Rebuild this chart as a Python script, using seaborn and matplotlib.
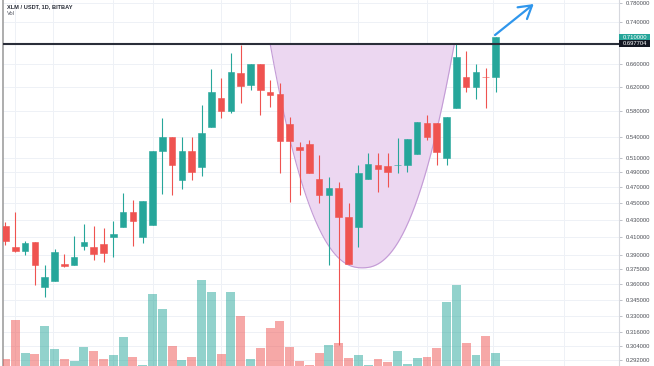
import numpy as np
import pandas as pd
import matplotlib
matplotlib.use("Agg")
import matplotlib.pyplot as plt
import seaborn as sns
from matplotlib.ticker import FixedLocator, FixedFormatter, NullLocator
from matplotlib.patches import Rectangle
from matplotlib.transforms import blended_transform_factory

# ---------------- data ----------------
opens = [0.4227, 0.3990, 0.3947, 0.4045, 0.3575, 0.3635, 0.3808, 0.3797, 0.4001, 0.3990,
         0.4023, 0.4101, 0.4216, 0.4393, 0.4101, 0.4239, 0.5194, 0.5398, 0.4796, 0.5194,
         0.4971, 0.5548, 0.6008, 0.5798, 0.6435, 0.6227, 0.6597, 0.6108, 0.6075, 0.5594,
         0.5251, 0.5295, 0.4810, 0.4603, 0.4692, 0.4333, 0.4216, 0.4810, 0.4998, 0.4984,
         0.4995, 0.4998, 0.5152, 0.5610, 0.5610, 0.5095, 0.5845, 0.6365, 0.6193, 0.6370,
         0.6365]
closes = [0.4057, 0.3947, 0.4034, 0.3797, 0.3675, 0.3936, 0.3787, 0.3882, 0.4045, 0.3914,
          0.3925, 0.4135, 0.4393, 0.4285, 0.4527, 0.5194, 0.5398, 0.4998, 0.5194, 0.4903,
          0.5458, 0.6108, 0.5798, 0.6453, 0.6210, 0.6597, 0.6142, 0.6058, 0.5339, 0.5339,
          0.5209, 0.4890, 0.4603, 0.4692, 0.4333, 0.3808, 0.4890, 0.5012, 0.4944, 0.4903,
          0.5000, 0.5368, 0.5625, 0.5398, 0.5180, 0.5703, 0.6724, 0.6193, 0.6453, 0.6360,
          0.7100]
highs = [0.4274, 0.4393, 0.4057, 0.4045, 0.3797, 0.3969, 0.3914, 0.4112, 0.4250, 0.4227,
         0.4204, 0.4285, 0.4628, 0.4540, 0.4527, 0.5194, 0.5687, 0.5398, 0.5398, 0.5398,
         0.5894, 0.6507, 0.6348, 0.6799, 0.6950, 0.6597, 0.6597, 0.6313, 0.6261, 0.5703,
         0.5324, 0.5353, 0.5137, 0.4836, 0.4770, 0.4503, 0.4998, 0.5166, 0.5166, 0.5166,
         0.5383, 0.5368, 0.5625, 0.5734, 0.5610, 0.5703, 0.6988, 0.6836, 0.6597, 0.6525,
         0.7104]
lows = [0.4012, 0.3936, 0.3903, 0.3595, 0.3478, 0.3635, 0.3776, 0.3797, 0.3958, 0.3850,
        0.3829, 0.3882, 0.4216, 0.4001, 0.4034, 0.4239, 0.4616, 0.4603, 0.4679, 0.4796,
        0.4849, 0.5548, 0.5687, 0.5766, 0.5927, 0.6142, 0.5734, 0.5862, 0.4890, 0.4515,
        0.4603, 0.4890, 0.4503, 0.3797, 0.3048, 0.3808, 0.3990, 0.4810, 0.4641, 0.4705,
        0.4890, 0.4903, 0.5152, 0.5353, 0.4998, 0.4998, 0.5845, 0.6108, 0.5992, 0.5845,
        0.6108]
volumes = [7, 46, 13, 12, 40, 17, 7, 5, 19, 15, 7, 11, 29, 9, 1, 72, 57, 20, 6, 9,
           86, 74, 12, 74, 50, 7, 18, 38, 45, 19, 5, 1, 13, 21, 23, 8, 11, 1, 7, 4,
           15, 2, 8, 9, 18, 64, 81, 23, 11, 30, 13]

price_ticks = [0.78, 0.74, 0.66, 0.62, 0.58, 0.54, 0.51, 0.49, 0.47, 0.45, 0.43,
               0.41, 0.39, 0.375, 0.36, 0.345, 0.33, 0.316, 0.304, 0.292]
resistance = 0.697704
last_price = 0.71
title_text = "XLM / USDT, 1D, BITBAY"
vol_text = "Vol"

# cup drawing (annotation) in day-index / price units
cup_start, cup_end = 27.0, 45.8
cup_bottom = 0.3767
# arrow annotation
arrow_from = (49.95, 0.7143)
arrow_to = (53.9, 0.7779)
grid_days = [1.0, 4.85, 11.0, 15.0, 22.0, 29.0, 36.0, 43.0, 49.7, 57.0]

GREEN = "#26a69a"
RED = "#ef5350"

# ---------------- figure ----------------
sns.set_theme(style="white")
plt.rcParams["font.family"] = ["Liberation Sans", "DejaVu Sans"]

o = np.array(opens); c = np.array(closes)
h = np.array(highs); l = np.array(lows)
days = np.arange(len(o))
up = c >= o
cols = np.where(up, GREEN, RED)

fig = plt.figure(figsize=(6.54, 3.66), dpi=100, facecolor="white")
rect = [3 / 654, 0.0, 616 / 654, 1.0]
ax = fig.add_axes(rect)
axv = fig.add_axes(rect)
axv.patch.set_alpha(0)

ax.set_yscale("log")
ylo, yhi = 0.2876, 0.7865
ax.set_ylim(ylo, yhi)
xlim = (-0.255, 62.6)
ax.set_xlim(*xlim)

# grid
for t in price_ticks:
    ax.axhline(t, color="#eef1f6", lw=0.7, zorder=0.5)
for g in grid_days:
    ax.axvline(g, color="#eef1f6", lw=0.7, zorder=0.5)

# cup fill
u = np.linspace(-1, 1, 300)
xs = (cup_start + cup_end) / 2 + (cup_end - cup_start) / 2 * u
lt, lb = np.log(resistance), np.log(cup_bottom)
curve = np.exp(lt - (lt - lb) * (1 - np.abs(u) ** 2.3))
ax.fill_between(xs, curve, resistance, color="#ecd7f1", lw=0, zorder=2)
ax.plot(xs, curve, color="#c39bd6", lw=0.8, zorder=2.1)

# candles
ax.vlines(days, l, h, colors=cols, lw=0.8, zorder=3)
ax.bar(days, np.abs(c - o), bottom=np.minimum(o, c), width=0.68,
       color=cols, edgecolor=cols, linewidth=0.4, zorder=4)

# resistance line
ax.axhline(resistance, color="#2a2e39", lw=1.5, zorder=5)

# arrow
ax.annotate("", xy=arrow_to, xytext=arrow_from,
            arrowprops=dict(arrowstyle="->,head_length=0.75,head_width=0.45",
                            color="#2f96ec", lw=1.6, shrinkA=0, shrinkB=0),
            annotation_clip=False, zorder=6)

# axis styling
ax.yaxis.tick_right()
ax.yaxis.set_major_locator(FixedLocator(price_ticks))
ax.yaxis.set_major_formatter(FixedFormatter([f"{v:.6f}" for v in price_ticks]))
ax.yaxis.set_minor_locator(NullLocator())
ax.tick_params(axis="y", which="major", right=True, left=False, length=2, width=0.6,
               color="#b2b5be", pad=2.5, labelsize=4.2, labelcolor="#4c4f57")
ax.tick_params(axis="x", bottom=False, labelbottom=False)
ax.set_xticks([])
for s in ("top", "bottom"):
    ax.spines[s].set_visible(False)
ax.spines["left"].set_color("#a0a0a0")
ax.spines["left"].set_linewidth(1.2)
ax.spines["right"].set_color("#d6d8de")
ax.spines["right"].set_linewidth(0.8)

# price tags on the right scale
px_per_ln = 366 / np.log(yhi / ylo)
half = np.exp(3.3 / px_per_ln)
btf = blended_transform_factory(ax.transAxes, ax.transData)
for val, fc in ((last_price, GREEN), (resistance, "#131722")):
    ax.add_patch(Rectangle((1.0, val / half), 31 / 616, val * half - val / half,
                           transform=btf, facecolor=fc, edgecolor="none",
                           clip_on=False, zorder=7))
    ax.text(1.0 + 4 / 616, val, f"{val:.6f}", transform=btf, ha="left", va="center",
            fontsize=4.2, color="white", zorder=8, clip_on=False)

# volume
df = pd.DataFrame({"day": days, "volume": volumes,
                   "dir": np.where(up, "up", "down")})
sns.barplot(data=df, x="day", y="volume", hue="dir",
            palette={"up": GREEN, "down": RED}, dodge=False, native_scale=True,
            width=0.9, alpha=0.5, saturation=1, errorbar=None, legend=False,
            linewidth=0, ax=axv)
axv.set_xlim(*xlim)
axv.set_ylim(0, max(volumes) / 0.235)
axv.axis("off")

# legend texts
fig.text(7 / 654, 1 - 6.3 / 366, title_text, ha="left", va="center",
         fontsize=4.1, fontweight="bold", color="#2a2e39")
fig.text(7 / 654, 1 - 13.3 / 366, vol_text, ha="left", va="center",
         fontsize=4.1, color="#50535e")

fig.savefig("out.png", dpi=100, facecolor="white")
